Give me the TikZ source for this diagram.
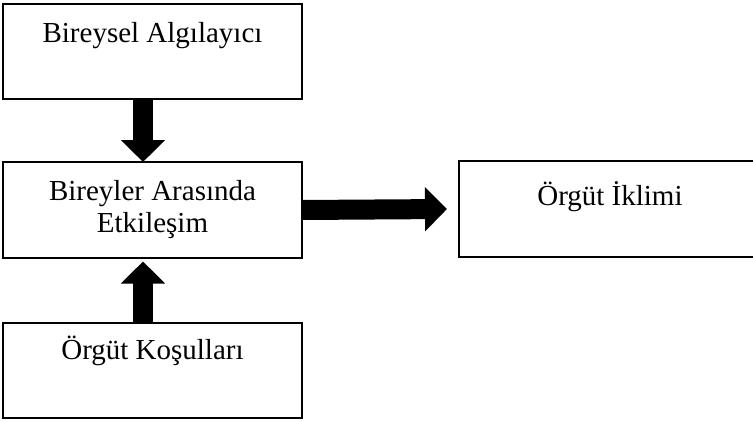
\documentclass[tikz,border=0pt]{standalone}
\usepackage{fontspec}
\setmainfont{Liberation Serif}
\usetikzlibrary{arrows.meta}
\begin{document}
\begin{tikzpicture}[
  box/.style = {draw, line width=1.3pt, inner sep=0pt, outer sep=0pt,
    minimum width=5.98cm, minimum height=1.9cm, align=center,
    font=\fontsize{16.5}{18.2}\selectfont},
  blockarrow/.style = {line width=0.4cm,
    -{Triangle[width=0.86cm,length=0.44cm]}}]
  \clip (0,0) rectangle (15.06,8.42);
  \useasboundingbox (0,0) rectangle (15.06,8.42);
  % boxes
  \node [box, text height=0.78cm, text depth=1.12cm] (percept) at (3.05,7.39) {Bireysel Algılayıcı};
  \node [box, minimum height=1.92cm] (interact) at (3.05,4.22) {Bireyler Arasında\\Etkileşim};
  \node [box, text height=0.72cm, text depth=1.18cm] (cond) at (3.05,1.01) {Örgüt Koşulları};
  \node [box, draw=none, minimum width=6.04cm, text height=0.9cm, text depth=1.02cm] (climate) at (12.2,4.24) {Örgüt İklimi};
  % right box runs past the page edge
  \draw [line width=1.3pt] (climate.north east) -- (climate.north west)
    -- (climate.south west) -- (climate.south east);
  % arrows
  \draw [blockarrow] ([xshift=-0.19cm]percept.south) -- ([xshift=-0.19cm]interact.north);
  \draw [blockarrow] ([xshift=-0.19cm]cond.north) -- ([xshift=-0.19cm,yshift=-0.07cm]interact.south);
  \draw [blockarrow] (interact.east) -- ([xshift=-0.24cm]climate.west);
\end{tikzpicture}
\end{document}
